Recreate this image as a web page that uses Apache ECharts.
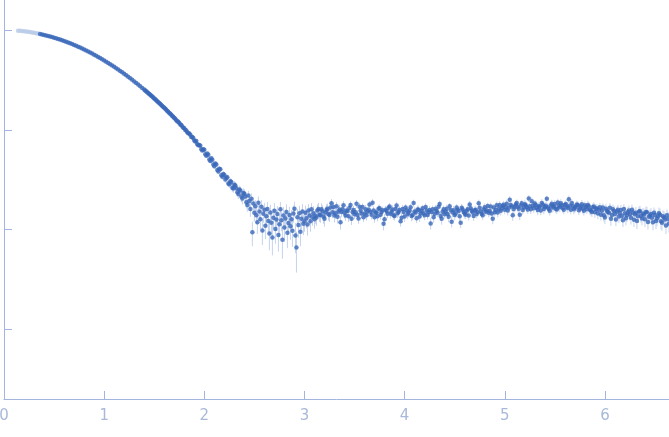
<!DOCTYPE html>
<html>
<head>
<meta charset="utf-8">
<script src="https://cdn.jsdelivr.net/npm/echarts@6/dist/echarts.min.js"></script>
<style>
  html, body { margin: 0; padding: 0; background: #ffffff; }
  #chart { width: 669px; height: 437px; }
</style>
</head>
<body>
<div id="chart"></div>
<script>
// ---- Data ----
// Excluded (light) points at the start of the curve
const qExcluded = [0.14,0.16,0.18,0.20,0.22,0.24,0.26,0.28,0.30,0.32,0.34];
const intensityExcluded = [0.9863,0.9822,0.9775,0.9723,0.9666,0.9604,0.9537,0.9465,0.9388,0.9307,0.9221];
const errorExcluded = [0.0021,0.0020,0.0021,0.0019,0.0020,0.0019,0.0018,0.0019,0.0018,0.0018,0.0017];

// Main (dark) points
const q = [
  0.36,0.38,0.40,0.42,0.44,0.46,0.48,0.50,0.52,0.54,
  0.56,0.58,0.60,0.62,0.64,0.66,0.68,0.70,0.72,0.74,
  0.76,0.78,0.80,0.82,0.84,0.86,0.88,0.90,0.92,0.94,
  0.96,0.98,1.00,1.02,1.04,1.06,1.08,1.10,1.12,1.14,
  1.16,1.18,1.20,1.22,1.24,1.26,1.28,1.30,1.32,1.34,
  1.36,1.38,1.40,
  1.41,1.42,1.43,1.44,1.45,1.46,1.47,1.48,1.49,1.50,
  1.51,1.52,1.53,1.54,1.55,1.56,1.57,1.58,1.59,1.60,
  1.61,1.62,1.63,1.64,1.65,1.66,1.67,1.68,1.69,1.70,
  1.71,1.72,1.73,1.74,1.75,1.76,1.77,1.78,1.79,1.80,
  1.81,1.82,1.83,1.84,1.85,1.86,1.87,1.88,1.89,1.90,
  1.91,1.92,1.93,1.94,1.95,1.96,1.97,1.98,1.99,2.00,
  2.01,2.02,2.03,2.04,2.05,2.06,2.07,2.08,2.09,2.10,
  2.11,2.12,2.13,2.14,2.15,2.16,2.17,2.18,2.19,2.20,
  2.21,2.22,2.23,2.24,2.25,2.26,2.27,2.28,2.29,2.30,
  2.31,2.32,2.33,2.34,2.35,2.36,2.37,2.38,2.39,2.40,
  2.41,2.42,2.43,2.44,2.45,2.46,2.47,2.48,2.49,2.50,
  2.51,2.52,2.53,2.54,2.55,2.56,2.57,2.58,2.59,2.60,
  2.61,2.62,2.63,2.64,2.65,2.66,2.67,2.68,2.69,2.70,
  2.71,2.72,2.73,2.74,2.75,2.76,2.77,2.78,2.79,2.80,
  2.81,2.82,2.83,2.84,2.85,2.86,2.87,2.88,2.89,2.90,
  2.91,2.92,2.93,2.94,2.95,2.96,2.97,2.98,2.99,3.00,
  3.01,3.02,3.03,3.04,3.05,3.06,3.07,3.08,3.09,3.10,
  3.11,3.12,3.13,3.14,3.15,3.16,3.17,3.18,3.19,3.20,
  3.21,3.22,3.23,3.24,3.25,3.26,3.27,3.28,3.29,3.30,
  3.31,3.32,3.33,3.34,3.35,3.36,3.37,3.38,3.39,3.40,
  3.41,3.42,3.43,3.44,3.45,3.46,3.47,3.48,3.49,3.50,
  3.51,3.52,3.53,3.54,3.55,3.56,3.57,3.58,3.59,3.60,
  3.61,3.62,3.63,3.64,3.65,3.66,3.67,3.68,3.69,3.70,
  3.71,3.72,3.73,3.74,3.75,3.76,3.77,3.78,3.79,3.80,
  3.81,3.82,3.83,3.84,3.85,3.86,3.87,3.88,3.89,3.90,
  3.91,3.92,3.93,3.94,3.95,3.96,3.97,3.98,3.99,4.00,
  4.01,4.02,4.03,4.04,4.05,4.06,4.07,4.08,4.09,4.10,
  4.11,4.12,4.13,4.14,4.15,4.16,4.17,4.18,4.19,4.20,
  4.21,4.22,4.23,4.24,4.25,4.26,4.27,4.28,4.29,4.30,
  4.31,4.32,4.33,4.34,4.35,4.36,4.37,4.38,4.39,4.40,
  4.41,4.42,4.43,4.44,4.45,4.46,4.47,4.48,4.49,4.50,
  4.51,4.52,4.53,4.54,4.55,4.56,4.57,4.58,4.59,4.60,
  4.61,4.62,4.63,4.64,4.65,4.66,4.67,4.68,4.69,4.70,
  4.71,4.72,4.73,4.74,4.75,4.76,4.77,4.78,4.79,4.80,
  4.81,4.82,4.83,4.84,4.85,4.86,4.87,4.88,4.89,4.90,
  4.91,4.92,4.93,4.94,4.95,4.96,4.97,4.98,4.99,5.00,
  5.01,5.02,5.03,5.04,5.05,5.06,5.07,5.08,5.09,5.10,
  5.11,5.12,5.13,5.14,5.15,5.16,5.17,5.18,5.19,5.20,
  5.21,5.22,5.23,5.24,5.25,5.26,5.27,5.28,5.29,5.30,
  5.31,5.32,5.33,5.34,5.35,5.36,5.37,5.38,5.39,5.40,
  5.41,5.42,5.43,5.44,5.45,5.46,5.47,5.48,5.49,5.50,
  5.51,5.52,5.53,5.54,5.55,5.56,5.57,5.58,5.59,5.60,
  5.61,5.62,5.63,5.64,5.65,5.66,5.67,5.68,5.69,5.70,
  5.71,5.72,5.73,5.74,5.75,5.76,5.77,5.78,5.79,5.80,
  5.81,5.82,5.83,5.84,5.85,5.86,5.87,5.88,5.89,5.90,
  5.91,5.92,5.93,5.94,5.95,5.96,5.97,5.98,5.99,6.00,
  6.01,6.02,6.03,6.04,6.05,6.06,6.07,6.08,6.09,6.10,
  6.11,6.12,6.13,6.14,6.15,6.16,6.17,6.18,6.19,6.20,
  6.21,6.22,6.23,6.24,6.25,6.26,6.27,6.28,6.29,6.30,
  6.31,6.32,6.33,6.34,6.35,6.36,6.37,6.38,6.39,6.40,
  6.41,6.42,6.43,6.44,6.45,6.46,6.47,6.48,6.49,6.50,
  6.51,6.52,6.53,6.54,6.55,6.56,6.57,6.58,6.59,6.60,
  6.61,6.62,6.63,6.64
];
const intensity = [
  0.9131,0.9036,0.8938,0.8836,0.8730,0.8620,0.8507,0.8391,0.8272,0.8150,
  0.8025,0.7897,0.7768,0.7636,0.7502,0.7366,0.7229,0.7090,0.6950,0.6810,
  0.6668,0.6525,0.6382,0.6239,0.6095,0.5951,0.5808,0.5664,0.5521,0.5379,
  0.5238,0.5097,0.4957,0.4819,0.4681,0.4545,0.4411,0.4278,0.4147,0.4017,
  0.3890,0.3764,0.3640,0.3519,0.3400,0.3282,0.3167,0.3054,0.2944,0.2836,
  0.2731,0.2628,0.2527,
  0.2478,0.2429,0.2381,0.2334,0.2287,0.2241,0.2195,0.2150,0.2106,0.2062,
  0.2019,0.1976,0.1935,0.1893,0.1853,0.1813,0.1773,0.1735,0.1696,0.1659,
  0.1626,0.1584,0.1547,0.1519,0.1476,0.1450,0.1418,0.1374,0.1351,0.1310,
  0.1290,0.1249,0.1219,0.1201,0.1171,0.1131,0.1116,0.1076,0.1049,0.1037,
  0.0996,0.0985,0.0947,0.0921,0.0917,0.0890,0.0848,0.0846,0.0826,0.0781,
  0.0761,0.0771,0.0718,0.0698,0.0705,0.0692,0.0639,0.0621,0.0637,0.0630,
  0.0569,0.0549,0.0578,0.0562,0.0503,0.0486,0.0517,0.0501,0.0449,0.0430,
  0.0459,0.0448,0.0396,0.0381,0.0407,0.0402,0.0351,0.0338,0.0361,0.0352,
  0.0318,0.0331,0.0334,0.0289,0.0284,0.0305,0.0299,0.0262,0.0258,0.0281,
  0.0276,0.0259,0.0236,0.0227,0.0252,0.0246,0.0214,0.0205,0.0233,0.0229,
  0.0214,0.0188,0.0176,0.0219,0.0193,0.0161,0.0204,0.0094,0.0182,0.0147,
  0.0171,0.0139,0.0118,0.0186,0.0152,0.0127,0.0169,0.0098,0.0144,0.0158,
  0.0109,0.0136,0.0161,0.0122,0.0091,0.0148,0.0117,0.0083,0.0131,0.0154,
  0.0101,0.0126,0.0143,0.0088,0.0113,0.0160,0.0124,0.0079,0.0138,0.0105,
  0.0129,0.0150,0.0093,0.0116,0.0140,0.0108,0.0127,0.0097,0.0145,0.0162,
  0.0087,0.0066,0.0133,0.0111,0.0146,0.0095,0.0128,0.0152,0.0114,0.0121,
  0.0147,0.0130,0.0112,0.0155,0.0138,0.0121,0.0160,0.0133,0.0146,0.0127,
  0.0137,0.0132,0.0155,0.0161,0.0141,0.0139,0.0160,0.0152,0.0135,0.0128,
  0.0148,0.0157,0.0162,0.0143,0.0140,0.0166,0.0183,0.0149,0.0168,0.0138,
  0.0146,0.0171,0.0134,0.0152,0.0159,0.0118,0.0150,0.0160,0.0175,0.0147,
  0.0138,0.0155,0.0153,0.0136,0.0164,0.0176,0.0128,0.0150,0.0157,0.0142,
  0.0149,0.0181,0.0140,0.0129,0.0169,0.0154,0.0145,0.0168,0.0133,0.0145,
  0.0160,0.0139,0.0152,0.0158,0.0178,0.0151,0.0141,0.0186,0.0155,0.0133,
  0.0147,0.0148,0.0136,0.0162,0.0163,0.0141,0.0150,0.0156,0.0114,0.0127,
  0.0158,0.0153,0.0144,0.0165,0.0170,0.0144,0.0152,0.0159,0.0139,0.0137,
  0.0161,0.0174,0.0146,0.0150,0.0157,0.0121,0.0131,0.0161,0.0150,0.0135,
  0.0166,0.0156,0.0142,0.0148,0.0155,0.0167,0.0137,0.0140,0.0184,0.0152,
  0.0148,0.0130,0.0159,0.0158,0.0135,0.0146,0.0153,0.0163,0.0145,0.0139,
  0.0168,0.0155,0.0140,0.0149,0.0157,0.0115,0.0150,0.0160,0.0133,0.0144,
  0.0162,0.0153,0.0147,0.0169,0.0180,0.0137,0.0128,0.0151,0.0160,0.0142,
  0.0151,0.0162,0.0143,0.0134,0.0171,0.0157,0.0120,0.0148,0.0156,0.0140,
  0.0145,0.0166,0.0158,0.0153,0.0136,0.0117,0.0165,0.0159,0.0150,0.0145,
  0.0141,0.0154,0.0160,0.0138,0.0178,0.0163,0.0154,0.0149,0.0137,0.0156,
  0.0158,0.0143,0.0150,0.0183,0.0165,0.0152,0.0144,0.0139,0.0159,0.0167,
  0.0151,0.0155,0.0172,0.0147,0.0153,0.0170,0.0145,0.0128,0.0166,0.0149,
  0.0157,0.0175,0.0148,0.0161,0.0176,0.0154,0.0163,0.0172,0.0177,0.0158,
  0.0167,0.0181,0.0155,0.0165,0.0199,0.0176,0.0170,0.0139,0.0161,0.0169,
  0.0178,0.0184,0.0168,0.0162,0.0141,0.0174,0.0183,0.0157,0.0166,0.0179,
  0.0175,0.0167,0.0159,0.0205,0.0171,0.0160,0.0192,0.0173,0.0163,0.0182,
  0.0176,0.0164,0.0157,0.0171,0.0169,0.0155,0.0185,0.0177,0.0161,0.0168,
  0.0173,0.0203,0.0166,0.0161,0.0154,0.0174,0.0181,0.0166,0.0170,0.0180,
  0.0162,0.0159,0.0187,0.0172,0.0167,0.0183,0.0175,0.0163,0.0158,0.0176,
  0.0180,0.0169,0.0164,0.0201,0.0173,0.0158,0.0184,0.0171,0.0160,0.0165,
  0.0169,0.0178,0.0176,0.0156,0.0163,0.0170,0.0179,0.0162,0.0154,0.0175,
  0.0168,0.0160,0.0176,0.0171,0.0158,0.0155,0.0150,0.0167,0.0170,0.0149,
  0.0161,0.0163,0.0145,0.0158,0.0167,0.0141,0.0154,0.0166,0.0139,0.0132,
  0.0162,0.0154,0.0150,0.0147,0.0165,0.0128,0.0140,0.0160,0.0153,0.0143,
  0.0126,0.0152,0.0158,0.0135,0.0146,0.0157,0.0137,0.0124,0.0161,0.0146,
  0.0130,0.0139,0.0149,0.0155,0.0142,0.0131,0.0158,0.0148,0.0125,0.0142,
  0.0147,0.0122,0.0136,0.0151,0.0153,0.0137,0.0129,0.0145,0.0141,0.0127,
  0.0150,0.0149,0.0119,0.0134,0.0138,0.0143,0.0131,0.0118,0.0147,0.0140,
  0.0122,0.0129,0.0135,0.0146,0.0141,0.0121,0.0117,0.0136,0.0132,0.0126,
  0.0110,0.0139,0.0128,0.0115
];
const error = [
  0.0019,0.0018,0.0019,0.0018,0.0017,0.0018,0.0017,0.0018,0.0017,0.0016,
  0.0017,0.0016,0.0017,0.0016,0.0016,0.0015,0.0016,0.0015,0.0016,0.0015,
  0.0015,0.0016,0.0015,0.0014,0.0015,0.0014,0.0015,0.0014,0.0015,0.0014,
  0.0014,0.0015,0.0014,0.0013,0.0014,0.0014,0.0013,0.0014,0.0013,0.0014,
  0.0013,0.0014,0.0013,0.0014,0.0013,0.0013,0.0014,0.0013,0.0014,0.0013,
  0.0014,0.0013,0.0014,
  0.0014,0.0014,0.0013,0.0014,0.0014,0.0014,0.0015,0.0015,0.0014,0.0014,
  0.0015,0.0015,0.0014,0.0015,0.0015,0.0015,0.0016,0.0016,0.0015,0.0015,
  0.0016,0.0016,0.0017,0.0017,0.0016,0.0016,0.0017,0.0017,0.0016,0.0016,
  0.0018,0.0018,0.0017,0.0017,0.0018,0.0018,0.0017,0.0017,0.0018,0.0018,
  0.0019,0.0019,0.0018,0.0018,0.0019,0.0019,0.0018,0.0018,0.0020,0.0020,
  0.0019,0.0019,0.0020,0.0020,0.0019,0.0019,0.0021,0.0021,0.0020,0.0020,
  0.0021,0.0021,0.0020,0.0020,0.0022,0.0022,0.0021,0.0021,0.0022,0.0022,
  0.0021,0.0021,0.0023,0.0023,0.0022,0.0022,0.0023,0.0023,0.0022,0.0022,
  0.0024,0.0024,0.0023,0.0023,0.0024,0.0024,0.0023,0.0023,0.0025,0.0025,
  0.0024,0.0024,0.0025,0.0025,0.0024,0.0024,0.0026,0.0026,0.0025,0.0025,
  0.0026,0.0026,0.0025,0.0025,0.0027,0.0027,0.0026,0.0026,0.0027,0.0027,
  0.0026,0.0026,0.0028,0.0028,0.0027,0.0027,0.0028,0.0028,0.0027,0.0027,
  0.0029,0.0029,0.0028,0.0028,0.0029,0.0029,0.0028,0.0028,0.0030,0.0030,
  0.0029,0.0029,0.0028,0.0028,0.0029,0.0029,0.0028,0.0028,0.0030,0.0030,
  0.0029,0.0029,0.0028,0.0028,0.0029,0.0029,0.0030,0.0030,0.0028,0.0028,
  0.0029,0.0029,0.0028,0.0028,0.0027,0.0027,0.0028,0.0028,0.0026,0.0026,
  0.0027,0.0027,0.0025,0.0025,0.0026,0.0026,0.0024,0.0024,0.0025,0.0025,
  0.0023,0.0023,0.0024,0.0024,0.0022,0.0022,0.0023,0.0023,0.0021,0.0021,
  0.0022,0.0022,0.0020,0.0020,0.0021,0.0021,0.0019,0.0019,0.0020,0.0020,
  0.0018,0.0018,0.0019,0.0019,0.0018,0.0018,0.0017,0.0017,0.0018,0.0018,
  0.0016,0.0016,0.0017,0.0017,0.0016,0.0016,0.0017,0.0017,0.0015,0.0015,
  0.0016,0.0016,0.0015,0.0015,0.0016,0.0016,0.0015,0.0015,0.0014,0.0014,
  0.0016,0.0016,0.0015,0.0015,0.0014,0.0014,0.0015,0.0015,0.0016,0.0016,
  0.0014,0.0014,0.0015,0.0015,0.0015,0.0015,0.0014,0.0014,0.0016,0.0016,
  0.0015,0.0015,0.0014,0.0014,0.0015,0.0015,0.0016,0.0016,0.0014,0.0014,
  0.0015,0.0015,0.0016,0.0016,0.0014,0.0014,0.0015,0.0015,0.0016,0.0016,
  0.0014,0.0014,0.0015,0.0015,0.0014,0.0014,0.0016,0.0016,0.0015,0.0015,
  0.0014,0.0014,0.0015,0.0015,0.0016,0.0016,0.0014,0.0014,0.0015,0.0015,
  0.0016,0.0016,0.0014,0.0014,0.0015,0.0015,0.0014,0.0014,0.0016,0.0016,
  0.0015,0.0015,0.0014,0.0014,0.0015,0.0015,0.0016,0.0016,0.0014,0.0014,
  0.0015,0.0015,0.0016,0.0016,0.0014,0.0014,0.0015,0.0015,0.0016,0.0016,
  0.0014,0.0014,0.0015,0.0015,0.0014,0.0014,0.0015,0.0015,0.0016,0.0016,
  0.0014,0.0014,0.0015,0.0015,0.0016,0.0016,0.0014,0.0014,0.0015,0.0015,
  0.0014,0.0014,0.0016,0.0016,0.0015,0.0015,0.0014,0.0014,0.0016,0.0016,
  0.0015,0.0015,0.0014,0.0014,0.0016,0.0016,0.0015,0.0015,0.0014,0.0014,
  0.0016,0.0016,0.0015,0.0015,0.0016,0.0016,0.0017,0.0017,0.0016,0.0016,
  0.0018,0.0018,0.0017,0.0017,0.0016,0.0016,0.0017,0.0017,0.0018,0.0018,
  0.0016,0.0016,0.0017,0.0017,0.0017,0.0017,0.0016,0.0016,0.0018,0.0018,
  0.0017,0.0017,0.0016,0.0016,0.0017,0.0017,0.0018,0.0018,0.0016,0.0016,
  0.0017,0.0017,0.0018,0.0018,0.0016,0.0016,0.0017,0.0017,0.0018,0.0018,
  0.0016,0.0016,0.0017,0.0017,0.0016,0.0016,0.0018,0.0018,0.0017,0.0017,
  0.0016,0.0016,0.0017,0.0017,0.0018,0.0018,0.0017,0.0017,0.0016,0.0016,
  0.0017,0.0017,0.0018,0.0018,0.0016,0.0016,0.0017,0.0017,0.0018,0.0018,
  0.0017,0.0017,0.0016,0.0016,0.0017,0.0017,0.0018,0.0018,0.0016,0.0016,
  0.0017,0.0017,0.0018,0.0018,0.0017,0.0017,0.0016,0.0016,0.0018,0.0018,
  0.0017,0.0017,0.0018,0.0018,0.0018,0.0018,0.0017,0.0017,0.0019,0.0019,
  0.0018,0.0018,0.0017,0.0017,0.0019,0.0019,0.0018,0.0018,0.0020,0.0020,
  0.0018,0.0018,0.0019,0.0019,0.0020,0.0020,0.0018,0.0018,0.0019,0.0019,
  0.0020,0.0020,0.0018,0.0018,0.0019,0.0019,0.0020,0.0020,0.0019,0.0019,
  0.0021,0.0021,0.0019,0.0019,0.0020,0.0020,0.0019,0.0019,0.0021,0.0021,
  0.0020,0.0020,0.0019,0.0019,0.0021,0.0021,0.0020,0.0020,0.0019,0.0019,
  0.0021,0.0021,0.0020,0.0020,0.0021,0.0021,0.0020,0.0020,0.0021,0.0021,
  0.0020,0.0020,0.0022,0.0022
];

// Axis ranges and tick values
const xMin = 0, xMax = 6.64;
const xTicks = [0, 1, 2, 3, 4, 5, 6];
const yMin = 0.0002, yMax = 2;
const yTicks = [0.001, 0.01, 0.1, 1];

// ---- Styles ----
const axisColor = '#a3b5dc';
const labelColor = '#a9b9d9';
const dotColor = '#3a68b9';
const lightDotColor = '#b9cae7';
const barColor = '#c4d3ee';

function toBars(xs, ys, es) {
  return xs.map((x, i) => [x, ys[i] - es[i], ys[i] + es[i]]);
}
function toPoints(xs, ys) {
  return xs.map((x, i) => [x, ys[i]]);
}
function errorBarSeries(data, color) {
  return {
    type: 'custom',
    data: data,
    encode: { x: 0, y: [1, 2] },
    clip: true,
    silent: true,
    z: 1,
    renderItem: function (params, api) {
      const x = api.value(0);
      const p1 = api.coord([x, api.value(1)]);
      const p2 = api.coord([x, api.value(2)]);
      return {
        type: 'line',
        shape: { x1: p1[0], y1: p1[1], x2: p2[0], y2: p2[1] },
        style: { stroke: color, lineWidth: 1 }
      };
    }
  };
}

const chart = echarts.init(document.getElementById('chart'), null, { renderer: 'canvas' });
chart.setOption({
  animation: false,
  backgroundColor: '#ffffff',
  grid: { left: 4, right: 0, top: 0, bottom: 38, containLabel: false, outerBoundsMode: 'none' },
  xAxis: {
    type: 'value',
    min: xMin,
    max: xMax,
    interval: 1,
    axisLine: { show: true, onZero: false, lineStyle: { color: axisColor, width: 1 } },
    axisTick: { show: true, inside: true, length: 8, lineStyle: { color: axisColor }, customValues: xTicks },
    axisLabel: { show: true, color: labelColor, fontSize: 15, fontFamily: 'DejaVu Sans', margin: 10, customValues: xTicks },
    splitLine: { show: false }
  },
  yAxis: {
    type: 'log',
    logBase: 10,
    min: yMin,
    max: yMax,
    axisLine: { show: true, onZero: false, lineStyle: { color: axisColor, width: 1 } },
    axisTick: { show: true, inside: true, length: 8, lineStyle: { color: axisColor }, customValues: yTicks },
    axisLabel: { show: false },
    splitLine: { show: false }
  },
  series: [
    errorBarSeries(toBars(qExcluded, intensityExcluded, errorExcluded), barColor),
    errorBarSeries(toBars(q, intensity, error), barColor),
    {
      type: 'scatter',
      data: toPoints(qExcluded, intensityExcluded),
      symbol: 'circle',
      symbolSize: 4.5,
      itemStyle: { color: lightDotColor },
      z: 2,
      silent: true
    },
    {
      type: 'scatter',
      data: toPoints(q, intensity),
      symbol: 'circle',
      symbolSize: 4.5,
      itemStyle: { color: dotColor },
      z: 3,
      silent: true
    }
  ]
});
</script>
</body>
</html>
